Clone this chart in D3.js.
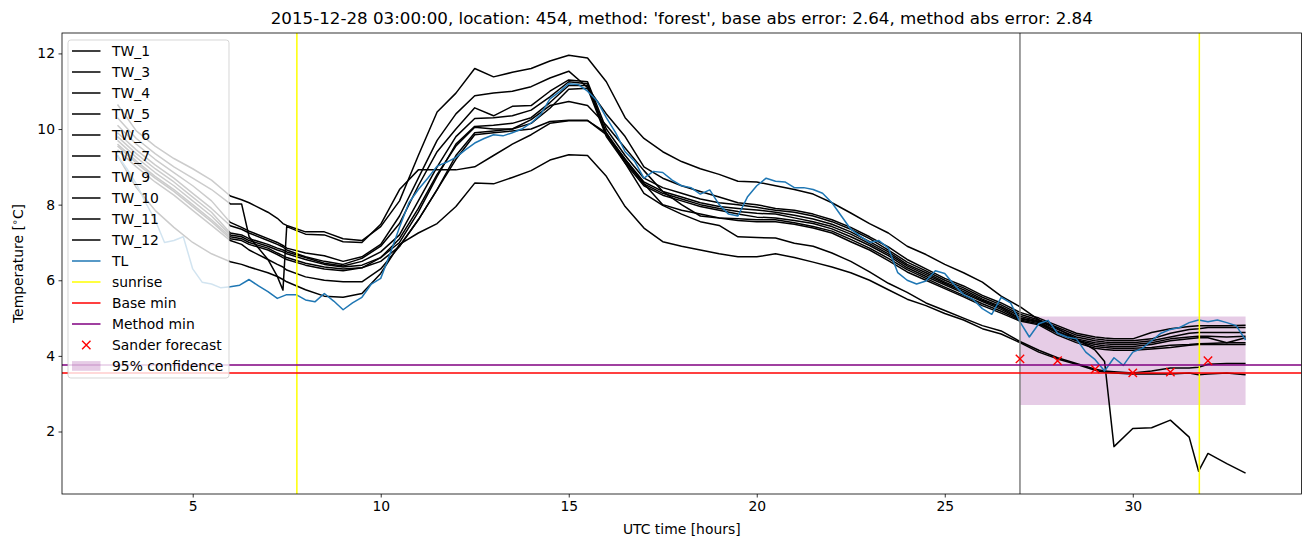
<!DOCTYPE html>
<html><head><meta charset="utf-8">
<script src="https://cdn.jsdelivr.net/npm/d3@7"></script>
<style>body{margin:0;background:#fff}svg{display:block;font-family:"DejaVu Sans",sans-serif}</style>
</head><body><svg id="c" width="1310" height="547"></svg>
<script>
// ---------- DATA ----------
const hoursTW = [3,3.5,4,4.5,5,5.5,6,6.3,6.5,7,7.25,7.4,7.5,
  8,8.5,9,9.5,10,10.5,11,11.5,12,12.5,13,13.5,14,14.5,15,
  15.5,16,16.5,17,17.5,18,18.5,19,19.5,20,20.5,21,21.5,22,
  22.5,23,23.5,24,24.5,25,25.5,26,26.5,27,27.5,28,28.5,29,
  29.25,29.5,30,30.5,31,31.5,31.75,32,32.5,33];

const TW_1 = [10.65,9.95,9.55,9.22,8.95,8.65,8.23,8.13,8.05,7.8,7.64,7.5,7.45,
  7.28,7.28,7.1,7.05,7.42,8.1,9.3,10.45,10.95,11.6,11.38,11.5,11.6,11.8,11.95,
  11.88,11.25,10.3,9.75,9.4,9.14,8.95,8.8,8.62,8.6,8.5,8.4,8.28,8.05,
  7.78,7.5,7.25,6.9,6.68,6.42,6.2,5.95,5.58,5.3,4.95,4.72,4.45,4.15,
  3.85,1.6,2.08,2.1,2.3,1.85,0.95,1.42,1.15,0.9];
const TW_3 = [10.3,9.75,9.35,9.0,8.7,8.4,8.02,8.02,7.15,6.55,6.1,5.74,7.42,
  7.22,7.2,7.02,7.0,7.48,8.4,8.92,8.92,8.92,9.0,9.3,9.6,9.85,10.15,10.22,
  10.22,9.9,9.1,8.3,7.98,7.75,7.55,7.45,7.15,7.13,7.12,6.98,6.9,6.72,
  6.5,6.22,5.92,5.68,5.4,5.2,5.0,4.8,4.66,4.38,4.15,3.95,3.8,3.65,
  3.6,3.58,3.55,3.6,3.68,3.68,3.7,3.78,3.8,3.8];
const TW_4 = [10.1,9.6,9.2,8.85,8.5,8.1,7.53,7.4,7.3,7.1,7.0,6.92,6.85,
  6.72,6.65,6.5,6.62,6.95,7.7,8.7,9.7,10.4,10.88,10.95,11.0,11.12,11.35,11.53,
  11.1,10.4,9.8,9.0,8.7,8.5,8.35,8.2,8.05,8.0,7.9,7.85,7.75,7.6,
  7.4,7.15,6.88,6.55,6.3,6.05,5.85,5.6,5.4,5.15,5.0,4.8,4.6,4.5,
  4.47,4.45,4.45,4.62,4.72,4.78,4.8,4.8,4.8,4.81];
const TW_5 = [9.9,9.45,9.05,8.7,8.3,7.9,7.44,7.35,7.25,7.05,6.95,6.88,6.8,
  6.62,6.5,6.42,6.58,6.9,7.5,8.5,9.4,10.0,10.56,10.35,10.6,10.62,11.0,11.3,
  11.25,10.0,9.3,8.7,8.45,8.3,8.15,8.05,8.0,7.93,7.85,7.8,7.7,7.55,
  7.35,7.1,6.8,6.48,6.25,6.0,5.8,5.55,5.35,5.1,4.95,4.75,4.55,4.45,
  4.42,4.4,4.4,4.45,4.6,4.7,4.72,4.75,4.75,4.75];
const TW_6 = [9.8,9.35,8.95,8.6,8.2,7.8,7.25,7.2,7.1,6.95,6.85,6.8,6.75,
  6.6,6.45,6.38,6.5,6.75,7.2,8.1,9.0,9.8,10.28,10.3,10.35,10.5,10.85,11.25,
  11.2,9.9,9.2,8.6,8.35,8.2,8.05,7.95,7.9,7.86,7.8,7.72,7.62,7.48,
  7.28,7.02,6.75,6.42,6.2,5.95,5.75,5.5,5.3,5.05,4.92,4.7,4.5,4.4,
  4.37,4.35,4.35,4.4,4.5,4.6,4.62,4.62,4.62,4.62];
const TW_7 = [9.7,9.25,8.85,8.5,8.1,7.7,7.2,7.15,7.05,6.9,6.8,6.75,6.7,
  6.55,6.42,6.35,6.4,6.6,7.0,7.8,8.75,9.6,10.07,10.1,10.15,10.3,10.7,11.15,
  11.15,9.85,9.15,8.55,8.3,8.15,8.0,7.9,7.82,7.77,7.75,7.65,7.55,7.42,
  7.22,6.97,6.7,6.38,6.15,5.92,5.7,5.47,5.27,5.0,4.9,4.65,4.45,4.35,
  4.32,4.3,4.3,4.35,4.45,4.5,4.52,4.52,4.5,4.52];
const TW_9 = [9.6,9.15,8.75,8.4,8.0,7.6,7.15,7.1,7.0,6.85,6.72,6.65,6.6,
  6.45,6.35,6.3,6.33,6.5,6.9,7.6,8.4,9.3,9.9,9.95,10.0,10.15,10.55,11.05,
  11.08,9.8,9.1,8.5,8.25,8.1,7.95,7.85,7.75,7.67,7.65,7.58,7.5,7.36,
  7.15,6.92,6.65,6.33,6.1,5.88,5.66,5.44,5.23,4.98,4.88,4.62,4.42,4.3,
  4.27,4.25,4.25,4.3,4.4,4.45,4.48,4.48,4.35,4.48];
const TW_10 = [9.55,9.1,8.7,8.35,7.95,7.55,7.1,7.05,6.95,6.8,6.68,6.6,6.55,
  6.4,6.3,6.25,6.33,6.6,7.1,7.9,8.8,9.55,10.05,10.0,10.0,10.25,10.62,10.73,
  10.62,10.1,9.5,8.9,8.35,8.0,7.7,7.65,7.63,7.6,7.6,7.52,7.42,7.3,
  7.08,6.85,6.58,6.28,6.05,5.82,5.6,5.38,5.18,4.95,4.85,4.6,4.4,4.25,
  4.22,4.2,4.2,4.22,4.28,4.3,4.32,4.33,4.35,4.35];
const TW_11 = [9.45,9.0,8.6,8.25,7.85,7.45,7.05,6.95,6.8,6.55,6.42,6.35,6.27,
  6.09,6.0,5.96,5.96,6.3,6.9,7.6,8.4,9.2,9.85,9.9,9.95,10.0,10.2,10.23,
  10.23,9.85,9.2,8.55,8.0,7.85,7.75,7.65,7.58,7.55,7.55,7.48,7.38,7.25,
  7.02,6.8,6.52,6.22,6.0,5.78,5.56,5.33,5.13,4.92,4.82,4.55,4.35,4.2,
  4.17,4.15,4.15,4.18,4.22,4.28,4.3,4.3,4.3,4.3];
const TW_12 = [9.3,8.45,7.85,7.4,7.0,6.7,6.49,6.42,6.35,6.2,6.1,6.02,5.96,
  5.75,5.58,5.55,5.65,6.18,6.95,7.25,7.5,7.95,8.57,8.55,8.72,8.9,9.18,9.32,
  9.3,8.75,7.95,7.38,7.02,6.9,6.8,6.7,6.62,6.62,6.7,6.6,6.48,6.35,
  6.2,6.0,5.75,5.5,5.33,5.12,4.95,4.72,4.58,4.35,4.1,3.92,3.78,3.62,
  3.57,3.55,3.52,3.53,3.52,3.55,3.5,3.52,3.55,3.5];

const twNames = ['TW_1','TW_3','TW_4','TW_5','TW_6','TW_7','TW_9','TW_10','TW_11','TW_12'];
const twValues = [TW_1,TW_3,TW_4,TW_5,TW_6,TW_7,TW_9,TW_10,TW_11,TW_12];

const hoursTL = d3.range(3, 33.001, 0.25);
const TL = [9.3,8.95,8.55,8.05,7.6,7.0,7.05,7.15,6.3,5.95,5.9,5.8,
  5.83,5.87,6.02,5.85,5.7,5.52,5.62,5.62,5.48,5.43,5.65,5.45,
  5.22,5.4,5.55,5.9,6.05,6.7,7.4,8.05,8.4,8.7,9.02,9.12,
  9.25,9.45,9.63,9.75,9.85,9.82,9.9,10.0,10.16,10.38,10.8,10.98,
  11.2,11.18,11.0,10.75,10.3,9.9,9.4,9.15,8.7,8.88,8.85,8.65,
  8.5,8.45,8.28,8.39,8.0,7.75,7.7,8.2,8.5,8.7,8.62,8.6,
  8.45,8.45,8.4,8.3,8.05,7.7,7.35,7.17,7.0,7.05,6.85,6.2,
  6.0,5.9,5.98,6.25,6.18,5.88,5.62,5.5,5.25,5.1,5.55,5.4,
  4.9,4.5,4.85,4.94,4.6,4.5,4.45,4.1,3.9,3.6,3.95,3.75,
  4.1,4.2,4.4,4.6,4.7,4.75,4.88,4.95,4.9,4.95,4.88,4.8,
  4.42];

const sunriseHours = [7.77, 31.77];
const forecastStartHour = 27;
const baseMin = 3.55;
const methodMin = 3.76;
const sanderHours = [27,28,29,30,31,32];
const sanderValues = [3.92,3.87,3.65,3.55,3.57,3.87];
const confHours = [27,33];
const confLower = [2.70,2.70];
const confUpper = [5.04,5.04];
const xTicks = [5,10,15,20,25,30];
const yTicks = [2,4,6,8,10,12];
const titleText = "2015-12-28 03:00:00, location: 454, method: 'forest', base abs error: 2.64, method abs error: 2.84";

// ---------- CHART ----------
const svg = d3.select('#c');
const M = {l:62, r:1301.5, t:33, b:494};
const x = d3.scaleLinear().domain([1.524, 34.487]).range([M.l, M.r]);
const y = d3.scaleLinear().domain([0.347, 12.54]).range([M.b, M.t]);

svg.append('defs').append('clipPath').attr('id','clip')
  .append('rect').attr('x',M.l).attr('y',M.t).attr('width',M.r-M.l).attr('height',M.b-M.t);
const plot = svg.append('g').attr('clip-path','url(#clip)');

// confidence band (drawn beneath lines)
const area = d3.area().x((d,i)=>x(confHours[i])).y0((d,i)=>y(confLower[i])).y1((d,i)=>y(confUpper[i]));
plot.append('path').datum(confHours).attr('d', area).attr('fill','purple').attr('fill-opacity',0.2);

const line = d3.line().x(d=>x(d[0])).y(d=>y(d[1]));
twValues.forEach(vals=>{
  plot.append('path').datum(hoursTW.map((h,i)=>[h, vals[i]]))
    .attr('d', line).attr('fill','none').attr('stroke','#000')
    .attr('stroke-width',1.5).attr('stroke-linejoin','round');
});
plot.append('path').datum(hoursTL.map((h,i)=>[h, TL[i]]))
  .attr('d', line).attr('fill','none').attr('stroke','#1f77b4')
  .attr('stroke-width',1.5).attr('stroke-linejoin','round');

sunriseHours.forEach(h=>{
  plot.append('line').attr('x1',x(h)).attr('x2',x(h)).attr('y1',M.t).attr('y2',M.b)
    .attr('stroke','#ffff00').attr('stroke-width',1.5);
});
plot.append('line').attr('x1',x(forecastStartHour)).attr('x2',x(forecastStartHour)).attr('y1',M.t).attr('y2',M.b)
  .attr('stroke','#808080').attr('stroke-width',1.5);
plot.append('line').attr('x1',M.l).attr('x2',M.r).attr('y1',y(baseMin)).attr('y2',y(baseMin))
  .attr('stroke','#ff0000').attr('stroke-width',1.5);
plot.append('line').attr('x1',M.l).attr('x2',M.r).attr('y1',y(methodMin)).attr('y2',y(methodMin))
  .attr('stroke','#800080').attr('stroke-width',1.5);

function xMark(g, cx, cy){
  const s = 4.2;
  g.append('path').attr('d',`M${cx-s},${cy-s}L${cx+s},${cy+s}M${cx-s},${cy+s}L${cx+s},${cy-s}`)
    .attr('stroke','#ff0000').attr('stroke-width',1.4).attr('fill','none');
}
sanderHours.forEach((h,i)=>xMark(plot, x(h), y(sanderValues[i])));

// axes
const fs = 13.9;
const xAxis = d3.axisBottom(x).tickValues(xTicks).tickSize(3.5).tickPadding(3.5).tickSizeOuter(0).tickFormat(d3.format('d'));
const gx = svg.append('g').attr('transform',`translate(0,${M.b})`).call(xAxis);
const yAxis = d3.axisLeft(y).tickValues(yTicks).tickSize(3.5).tickPadding(3.5).tickSizeOuter(0).tickFormat(d3.format('d'));
const gy = svg.append('g').attr('transform',`translate(${M.l},0)`).call(yAxis);
[gx,gy].forEach(g=>{
  g.select('.domain').remove();
  g.selectAll('line').attr('stroke','#000').attr('stroke-width',0.8);
  g.selectAll('text').attr('font-size',fs).attr('fill','#000').attr('font-family','DejaVu Sans');
});
svg.append('rect').attr('x',M.l).attr('y',M.t).attr('width',M.r-M.l).attr('height',M.b-M.t)
  .attr('fill','none').attr('stroke','#000').attr('stroke-width',0.8);

svg.append('text').attr('x',(M.l+M.r)/2).attr('y',24).attr('text-anchor','middle')
  .attr('font-size',16.7).text(titleText);
svg.append('text').attr('x',(M.l+M.r)/2).attr('y',534).attr('text-anchor','middle')
  .attr('font-size',fs).text('UTC time [hours]');
const yl = svg.append('text').attr('transform',`translate(23,${(M.t+M.b)/2}) rotate(-90)`)
  .attr('text-anchor','middle').attr('font-size',fs);
yl.append('tspan').text('Temperature [');
yl.append('tspan').attr('font-size',fs*0.7).attr('dy',-5).text('\u2218');
yl.append('tspan').attr('dy',5).text('C]');

// legend
const lg = svg.append('g');
lg.append('rect').attr('x',68).attr('y',40).attr('width',161).attr('height',338).attr('rx',2.8)
  .attr('fill','#fff').attr('fill-opacity',0.8).attr('stroke','#cccccc').attr('stroke-opacity',0.8).attr('stroke-width',1);
const legendItems = twNames.map(n=>({label:n,type:'line',color:'#000'}))
  .concat([{label:'TL',type:'line',color:'#1f77b4'},
           {label:'sunrise',type:'line',color:'#ffff00'},
           {label:'Base min',type:'line',color:'#ff0000'},
           {label:'Method min',type:'line',color:'#800080'},
           {label:'Sander forecast',type:'marker',color:'#ff0000'},
           {label:'95% confidence',type:'patch',color:'purple'}]);
legendItems.forEach((it,i)=>{
  const cy = 51 + 21*i;
  if(it.type==='line'){
    lg.append('line').attr('x1',72).attr('x2',100.5).attr('y1',cy).attr('y2',cy)
      .attr('stroke',it.color).attr('stroke-width',1.5);
  } else if(it.type==='marker'){
    xMark(lg, 86.3, cy);
  } else {
    lg.append('rect').attr('x',72).attr('y',cy-4.9).attr('width',28.5).attr('height',9.7)
      .attr('fill',it.color).attr('fill-opacity',0.2);
  }
  lg.append('text').attr('x',112).attr('y',cy).attr('dy','0.36em').attr('font-size',fs).text(it.label);
});
</script></body></html>
